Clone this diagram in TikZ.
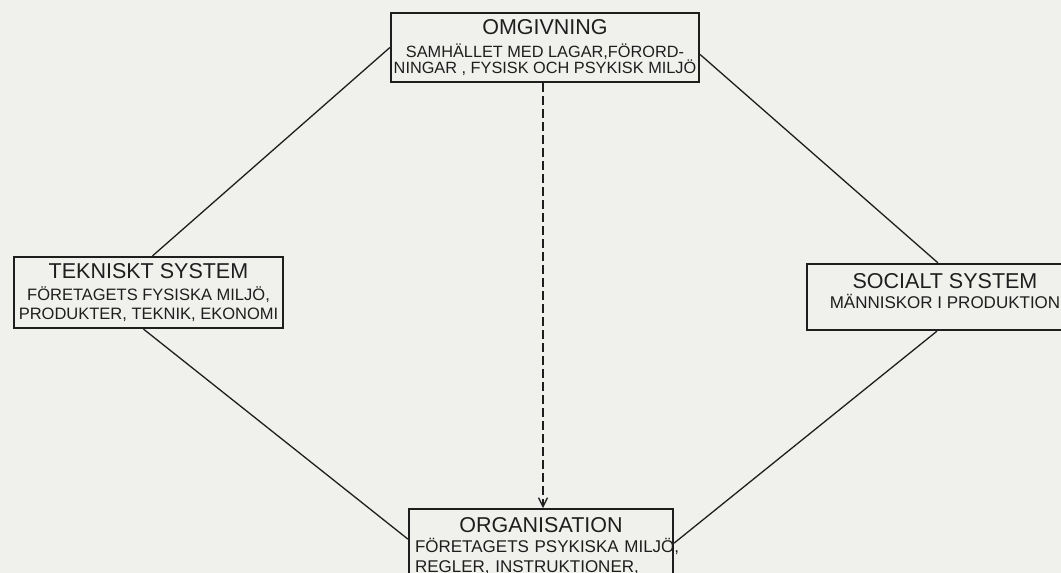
\documentclass[tikz,border=0pt]{standalone}
\usepackage{fontspec}
\setmainfont{Liberation Sans}
\usetikzlibrary{positioning,arrows.meta}
\definecolor{ink}{RGB}{30,30,30}
\definecolor{paper}{RGB}{240,240,237}
\newcommand{\boxtitle}[1]{{\fontsize{21.5}{23}\selectfont #1}}

\begin{document}
\begin{tikzpicture}[on grid,node distance=4cm,
    box/.style={draw=ink,line width=2.2pt,rectangle,inner xsep=1pt,inner ysep=3pt,align=center,
      text=ink,font=\fontsize{17}{16}\selectfont},
    link/.style={draw=ink,line width=1.3pt}]
   \clip (0,0) rectangle (1061pt,-573pt);
   \fill[paper] (0,0) rectangle (1061pt,-573pt);

   \node[box,minimum width=308pt,minimum height=69pt,font=\fontsize{16.3}{16}\selectfont] (omg) at (545pt,-47.5pt)
      {\boxtitle{OMGIVNING}\\[7pt] SAMHÄLLET MED LAGAR,FÖRORD-\\NINGAR , FYSISK OCH PSYKISK MILJÖ};
   \node[box,minimum width=269pt,minimum height=71pt,font=\fontsize{16.5}{16}\selectfont] (tek) [below left=245pt and 396.5pt of omg]
      {\boxtitle{TEKNISKT SYSTEM}\\[6pt] FÖRETAGETS FYSISKA MILJÖ,\\[3pt] PRODUKTER, TEKNIK, EKONOMI};
   \node[box,minimum width=276pt,minimum height=66pt,text depth=13pt] (soc) [below right=249.5pt and 400pt of omg]
      {\boxtitle{SOCIALT SYSTEM}\\[4pt] MÄNNISKOR I PRODUKTION};
   \node[box,on grid=false,align=left,minimum width=264pt,text width=252pt,inner ysep=8pt,text depth=70pt,
      font=\fontsize{17}{20}\selectfont,xshift=-4pt] (org) [below=425pt of omg.south]
      {\centering\boxtitle{ORGANISATION}\par\raggedright\noindent
       \mbox{FÖRETAGETS PSYKISKA MILJÖ,}\\\mbox{REGLER, INSTRUKTIONER,}};

   \path[link]
    (omg.west) edge ([xshift=4pt]tek.north)
    ([yshift=-7pt]omg.east) edge ([xshift=-7pt]soc.north)
    ([xshift=-5pt]tek.south) edge ([yshift=-31pt]org.north west)
    ([xshift=-8pt]soc.south) edge ([yshift=-35pt]org.north east);
   \draw[link,dash pattern=on 9pt off 4pt,-{Straight Barb[length=9pt,width=9pt]}]
    ([xshift=-2pt]omg.south) -- ([xshift=2pt]org.north);
\end{tikzpicture}
\end{document}
